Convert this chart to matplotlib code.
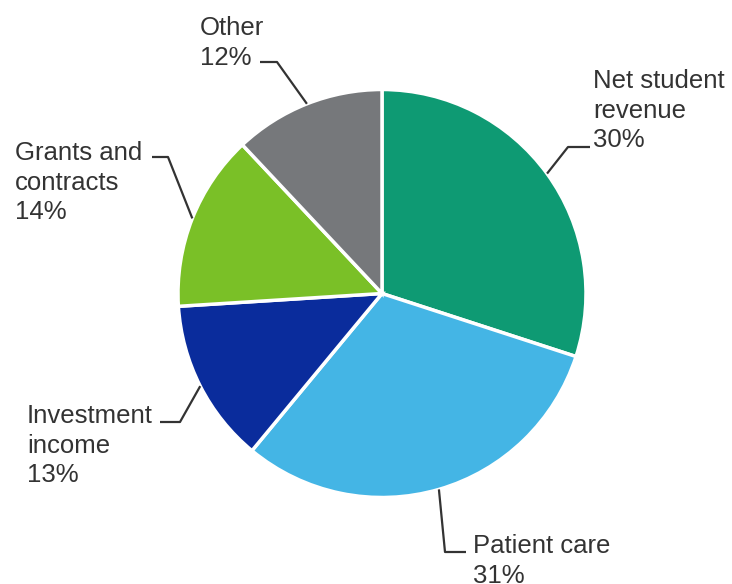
import numpy as np
import matplotlib.pyplot as plt

plt.rcParams['font.family'] = ['Liberation Sans', 'DejaVu Sans']

labels = ["Net student\nrevenue", "Patient care", "Investment\nincome", "Grants and\ncontracts", "Other"]
shares = [30, 31, 13, 14, 12]
colors = ["#0E9A73", "#44B5E5", "#0A2C9C", "#7AC027", "#76787B"]

W, H = 732, 584
fig = plt.figure(figsize=(W / 100, H / 100), dpi=100)
ax = fig.add_axes([0, 0, 1, 1])
ax.set_xlim(0, W)
ax.set_ylim(0, H)
ax.set_aspect('equal')
ax.axis('off')

cx, cy, r = 382, H - 293.5, 204
wedges, _ = ax.pie(shares, colors=colors, startangle=90, counterclock=False,
                   center=(cx, cy), radius=r,
                   wedgeprops=dict(edgecolor='white', linewidth=2.5))
ax.set_xlim(0, W)
ax.set_ylim(0, H)

# label layout (pixel coords, y measured from top): text top-left, elbow, line end
layout = [
    ((593, 69), (568, 147), (590, 147)),
    ((473, 534), (445, 552), (466, 552)),
    ((27, 404), (180, 422), (160, 422)),
    ((15, 141), (168, 157), (152, 157)),
    ((200, 16), (277, 62), (260, 62)),
]

for w, lab, pct, (tpos, elbow, end) in zip(wedges, labels, shares, layout):
    ang = np.deg2rad((w.theta1 + w.theta2) / 2)
    x0, y0 = cx + r * np.cos(ang), cy + r * np.sin(ang)
    ax.plot([x0, elbow[0], end[0]], [y0, H - elbow[1], H - end[1]],
            color='#333333', lw=1.6, solid_capstyle='butt')
    ax.text(tpos[0], H - tpos[1], f"{lab}\n{pct}%", ha='left', va='top',
            fontsize=18.5, color='#333333', linespacing=1.3)

fig.savefig('out.png', dpi=100)
